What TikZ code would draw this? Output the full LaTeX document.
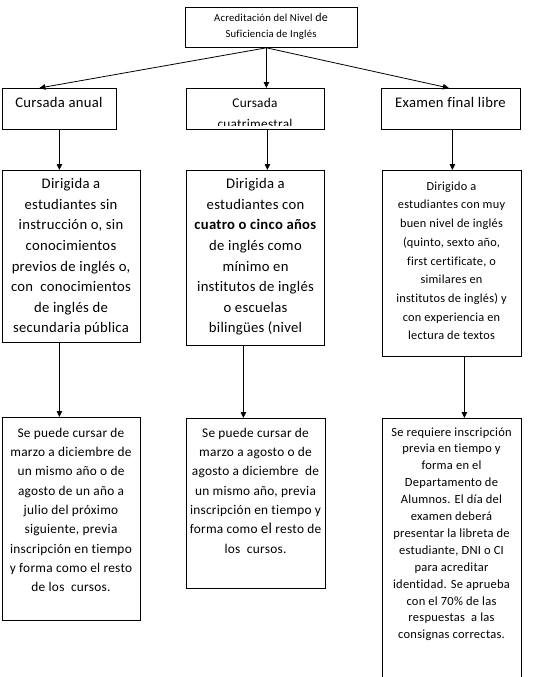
\documentclass[tikz,border=0pt]{standalone}
\usepackage{fontspec}
\setmainfont{Carlito}[LetterSpace=2, Ligatures=NoCommon]
\usetikzlibrary{arrows.meta,calc}
\newcommand\fsz[2]{\fontsize{#1}{#2}\selectfont}
\tikzset{
  boxnode/.style={draw, line width=0.8pt, inner sep=0pt, anchor=north west},
  txt/.style={align=center, inner sep=0pt, anchor=north},
  arr/.style={-{Triangle[length=6pt,width=5.5pt]}, line width=0.8pt},
}
\begin{document}
\begin{tikzpicture}[x=1pt,y=-1pt]
\useasboundingbox (0,0) rectangle (534,677);
% boxes
\node[boxnode, minimum width=172pt, minimum height=40pt] (top) at (185,7) {};
\node[boxnode, minimum width=114pt, minimum height=41pt] (r2a) at (2,88) {};
\node[boxnode, minimum width=138pt, minimum height=41pt] (r2b) at (186,88) {};
\node[boxnode, minimum width=139pt, minimum height=41pt] (r2c) at (381,88) {};
\node[boxnode, minimum width=138pt, minimum height=172pt] (r3a) at (2,170) {};
\node[boxnode, minimum width=138pt, minimum height=175pt] (r3b) at (186,170) {};
\node[boxnode, minimum width=139pt, minimum height=186pt] (r3c) at (382,170) {};
\node[boxnode, minimum width=138pt, minimum height=203pt] (r4a) at (2,417) {};
\node[boxnode, minimum width=139pt, minimum height=170pt] (r4b) at (186,418) {};
\node[boxnode, minimum width=139pt, minimum height=280pt] (r4c) at (382,418) {};
% texts
\node[txt, font={\fsz{10.67}{16}}] (t0) at (271,10) {\strut Acreditación del Nivel {\fsz{12}{16}de}\\Suficiencia de Inglés};
\node[inner sep=0pt, anchor=base, font={\fsz{14.67}{20}}] (t2a) at (59,107.5) {Cursada anual};
\node[inner sep=0pt, anchor=base, font={\fsz{14.67}{20}}] (t2c) at (450.5,107.5) {Examen final libre};
\node[inner sep=0pt, anchor=base, font={\fsz{13.33}{19}}] (t2b) at (255,107.5) {Cursada};
\begin{scope}
\clip (r2b.north west) rectangle ([yshift=4.5pt]r2b.south east);
\node[inner sep=0pt, anchor=base, font={\fsz{13.33}{19}}] (t2b2) at (255,128) {cuatrimestral};
\end{scope}
\node[txt, font={\fsz{14.67}{20.6}}] (t3a) at (71,174.1) {\strut Dirigida a\\estudiantes sin\\instrucción o, sin\\conocimientos\\previos de inglés o,\\con\ \ conocimientos\\de inglés de\\secundaria pública};
\node[txt, font={\fsz{14.67}{20.6}}] (t3b) at (255.5,174.1) {\strut Dirigida a\\estudiantes con\\\textbf{cuatro o cinco años}\\de inglés como\\mínimo en\\institutos de inglés\\o escuelas\\bilingües (nivel};
\node[txt, font={\fsz{12.3}{18.7}}] (t3c) at (451.5,177) {\strut Dirigido a\\estudiantes con muy\\buen nivel de inglés\\(quinto, sexto año,\\first certificate, o\\similares en\\institutos de inglés) y\\con experiencia en\\lectura de textos};
\node[txt, font={\fsz{13.33}{19.3}}] (t4a) at (71,423.5) {\strut Se puede cursar de\\marzo a diciembre de\\un mismo año o de\\agosto de un año a\\julio del próximo\\siguiente, previa\\inscripción en tiempo\\y forma como el resto\\de los\ \ cursos.};
\node[txt, font={\fsz{13.33}{19.3}}] (t4b) at (255.5,423.5) {\strut Se puede cursar de\\marzo a agosto o de\\agosto a diciembre\ \ de\\un mismo año, previa\\inscripción en tiempo y\\forma como {\fsz{15}{19.3}el} resto de\\los\ \ cursos.};
\node[txt, font={\fsz{12.5}{16.9}}] (t4c) at (451.5,424) {\strut Se requiere inscripción\\previa en tiempo y\\forma en el\\Departamento de\\Alumnos. El día del\\examen deberá\\presentar la libreta de\\estudiante, DNI o CI\\para acreditar\\identidad. Se aprueba\\con el 70\% de las\\respuestas\ \ a las\\consignas correctas.};
% connectors
\draw[arr] ([xshift=-5pt]top.south) -- ([xshift=-20pt]r2a.north);
\draw[arr] ([xshift=-5pt]top.south) -- ([xshift=11pt]r2b.north);
\draw[arr] ([xshift=-5pt]top.south) -- ([xshift=-2pt]r2c.north);
\draw[arr] (r2a.south) -- (r2a.south |- r3a.north);
\draw[arr] ([xshift=12pt]r2b.south) -- ([xshift=12pt]r2b.south |- r3b.north);
\draw[arr] ([xshift=1.5pt]r2c.south) -- ([xshift=1.5pt]r2c.south |- r3c.north);
\draw[arr] ([xshift=-12pt]r3a.south) -- ([xshift=-12pt]r3a.south |- r4a.north);
\draw[arr] ([xshift=-12pt]r3b.south) -- ([xshift=-12pt]r3b.south |- r4b.north);
\draw[arr] ([xshift=12.5pt]r3c.south) -- ([xshift=12.5pt]r3c.south |- r4c.north);
\end{tikzpicture}
\end{document}
